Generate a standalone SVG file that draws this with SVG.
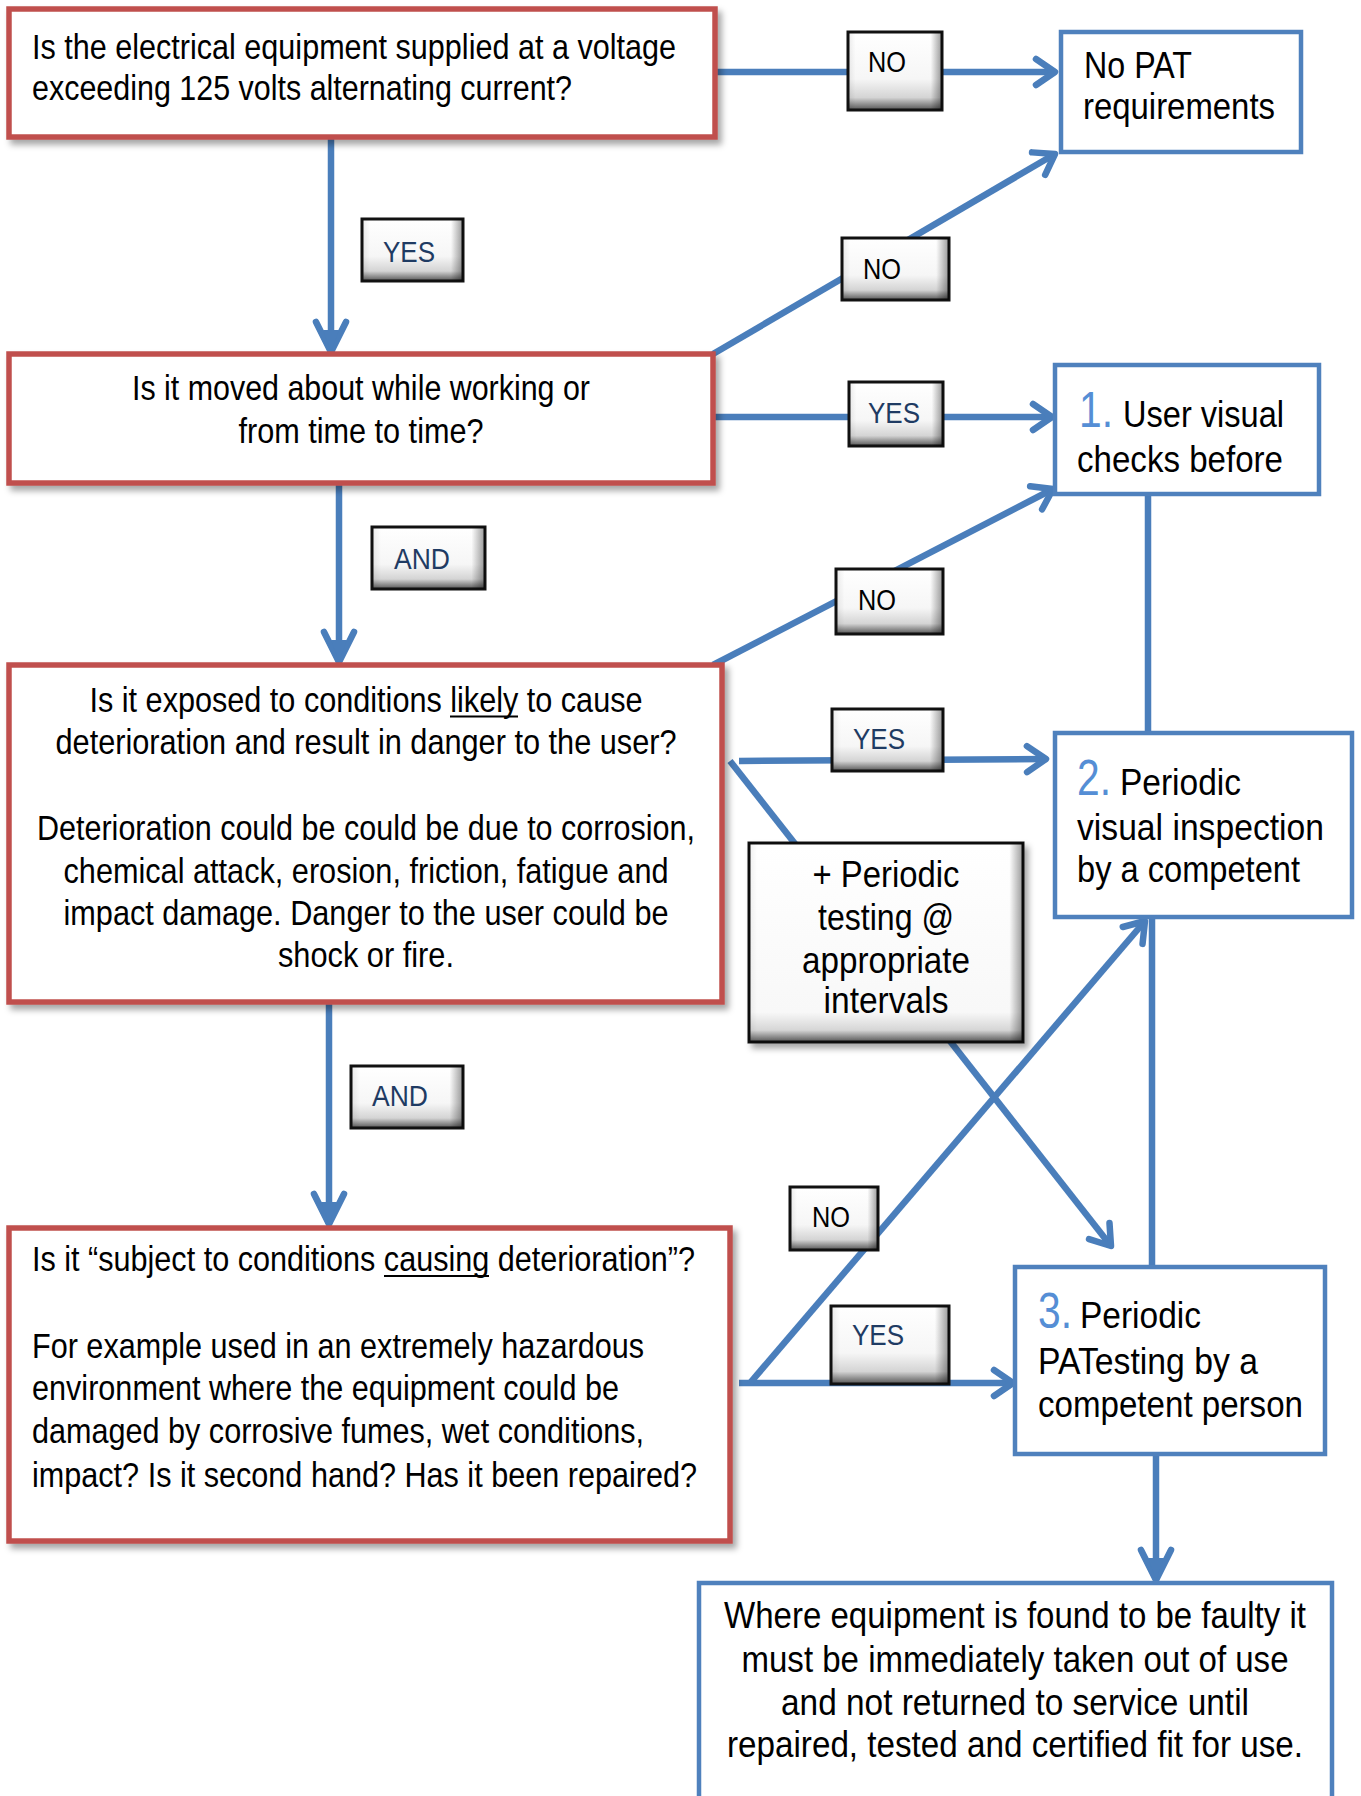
<svg xmlns="http://www.w3.org/2000/svg" width="1361" height="1796" viewBox="0 0 1361 1796">
<style>
.q{fill:#fff;stroke:#C0504D;stroke-width:5.5}
.b{fill:#fff;stroke:#4F81BD;stroke-width:4.5}
.t{font-family:"Liberation Sans Narrow","Liberation Sans",Arial,sans-serif;font-size:35px;fill:#000}
.r{font-family:"Liberation Sans Narrow","Liberation Sans",Arial,sans-serif;font-size:36px;fill:#000}
.n{font-family:"Liberation Sans Narrow","Liberation Sans",Arial,sans-serif;font-size:50px;fill:#558ED5}
.lb{font-family:"Liberation Sans Narrow","Liberation Sans",Arial,sans-serif;font-size:29px;text-anchor:middle}
.y{fill:#1F3B63}
.k{fill:#000}
.c{fill:none;stroke:#4A7EBB;stroke-width:6.5}
.lab{fill:url(#lg);stroke:#111;stroke-width:3}
.note{fill:url(#ng);stroke:#111;stroke-width:3}
.m{text-anchor:middle}
.u{stroke:#000;stroke-width:2.2}
</style>
<defs>
<linearGradient id="lg" x1="0" y1="0" x2="0" y2="1">
<stop offset="0" stop-color="#ffffff"/>
<stop offset="0.6" stop-color="#f6f6f6"/>
<stop offset="0.84" stop-color="#d4d4d4"/>
<stop offset="1" stop-color="#555555"/>
</linearGradient>
<linearGradient id="ng" x1="0" y1="0" x2="0" y2="1">
<stop offset="0" stop-color="#ffffff"/>
<stop offset="0.85" stop-color="#f8f8f8"/>
<stop offset="0.94" stop-color="#d6d6d6"/>
<stop offset="1" stop-color="#555555"/>
</linearGradient>
<linearGradient id="lh" x1="0" y1="0" x2="1" y2="0">
<stop offset="0" stop-color="#000" stop-opacity="0.08"/>
<stop offset="0.08" stop-color="#000" stop-opacity="0"/>
<stop offset="0.88" stop-color="#000" stop-opacity="0"/>
<stop offset="1" stop-color="#000" stop-opacity="0.4"/>
</linearGradient>
<linearGradient id="nh" x1="0" y1="0" x2="1" y2="0">
<stop offset="0" stop-color="#000" stop-opacity="0.06"/>
<stop offset="0.03" stop-color="#000" stop-opacity="0"/>
<stop offset="0.95" stop-color="#000" stop-opacity="0"/>
<stop offset="1" stop-color="#000" stop-opacity="0.4"/>
</linearGradient>
<filter id="sh" x="-5%" y="-5%" width="115%" height="120%">
<feDropShadow dx="4" dy="5" stdDeviation="3" flood-color="#000" flood-opacity="0.35"/>
</filter>
<marker id="open" markerUnits="userSpaceOnUse" viewBox="-26 -20 32 40" markerWidth="32" markerHeight="40" refX="0" refY="0" orient="auto">
<path d="M-19,-13 L0,0 L-19,13" fill="none" stroke="#4A7EBB" stroke-width="6.5" stroke-linecap="round" stroke-linejoin="round"/>
</marker>
<marker id="down" markerUnits="userSpaceOnUse" viewBox="-36 -22 42 44" markerWidth="42" markerHeight="44" refX="0" refY="0" orient="auto">
<path d="M-30,-15 L0,0 L-30,15" fill="none" stroke="#4A7EBB" stroke-width="6.5" stroke-linecap="round" stroke-linejoin="round"/>
<path d="M-22,-8 L0,0 L-22,8 Z" fill="#4A7EBB"/>
</marker>
</defs>

<g id="connectors">
<path class="c" d="M715,72 H1055" marker-end="url(#open)"/>
<path class="c" d="M331,139 V352" marker-end="url(#down)"/>
<path class="c" d="M713,354 L1055,154" marker-end="url(#open)"/>
<path class="c" d="M713,417 H1052" marker-end="url(#open)"/>
<path class="c" d="M339,483 V662" marker-end="url(#down)"/>
<path class="c" d="M713,665 L1053,489" marker-end="url(#open)"/>
<path class="c" d="M739,761 L1046,759" marker-end="url(#open)"/>
<path class="c" d="M730,761 L1111,1246" marker-end="url(#open)"/>
<path class="c" d="M1148,495 V733"/>
<path class="c" d="M329,1002 V1224" marker-end="url(#down)"/>
<path class="c" d="M739,1383 H1013" marker-end="url(#open)"/>
<path class="c" d="M750,1383 L1145,921" marker-end="url(#open)"/>
<path class="c" d="M1152,917 V1266"/>
<path class="c" d="M1156,1455 V1580" marker-end="url(#down)"/>
</g>

<g id="labels">
<g id="lbl-no1"><rect class="lab" x="848" y="32" width="94" height="78"/><rect x="848" y="32" width="94" height="78" fill="url(#lh)"/><text class="lb k" x="887" y="72" textLength="38" lengthAdjust="spacingAndGlyphs">NO</text></g>
<g id="lbl-yes1"><rect class="lab" x="362" y="219" width="101" height="62"/><rect x="362" y="219" width="101" height="62" fill="url(#lh)"/><text class="lb y" x="409" y="262" textLength="52" lengthAdjust="spacingAndGlyphs">YES</text></g>
<g id="lbl-no2"><rect class="lab" x="842" y="238" width="107" height="62"/><rect x="842" y="238" width="107" height="62" fill="url(#lh)"/><text class="lb k" x="882" y="279" textLength="38" lengthAdjust="spacingAndGlyphs">NO</text></g>
<g id="lbl-yes2"><rect class="lab" x="849" y="382" width="94" height="64"/><rect x="849" y="382" width="94" height="64" fill="url(#lh)"/><text class="lb y" x="894" y="423" textLength="52" lengthAdjust="spacingAndGlyphs">YES</text></g>
<g id="lbl-and1"><rect class="lab" x="372" y="527" width="113" height="62"/><rect x="372" y="527" width="113" height="62" fill="url(#lh)"/><text class="lb y" x="422" y="569" textLength="56" lengthAdjust="spacingAndGlyphs">AND</text></g>
<g id="lbl-no3"><rect class="lab" x="836" y="569" width="107" height="65"/><rect x="836" y="569" width="107" height="65" fill="url(#lh)"/><text class="lb k" x="877" y="610" textLength="38" lengthAdjust="spacingAndGlyphs">NO</text></g>
<g id="lbl-yes3"><rect class="lab" x="832" y="709" width="111" height="62"/><rect x="832" y="709" width="111" height="62" fill="url(#lh)"/><text class="lb y" x="879" y="749" textLength="52" lengthAdjust="spacingAndGlyphs">YES</text></g>
<g id="lbl-and2"><rect class="lab" x="351" y="1066" width="112" height="62"/><rect x="351" y="1066" width="112" height="62" fill="url(#lh)"/><text class="lb y" x="400" y="1106" textLength="56" lengthAdjust="spacingAndGlyphs">AND</text></g>
<g id="lbl-no4"><rect class="lab" x="790" y="1187" width="88" height="63"/><rect x="790" y="1187" width="88" height="63" fill="url(#lh)"/><text class="lb k" x="831" y="1227" textLength="38" lengthAdjust="spacingAndGlyphs">NO</text></g>
<g id="lbl-yes4"><rect class="lab" x="831" y="1306" width="118" height="78"/><rect x="831" y="1306" width="118" height="78" fill="url(#lh)"/><text class="lb y" x="878" y="1345" textLength="52" lengthAdjust="spacingAndGlyphs">YES</text></g>
</g>

<g id="q1">
<rect class="q" x="9" y="9" width="706" height="128" filter="url(#sh)"/>
<text class="t" x="32" y="59" textLength="644" lengthAdjust="spacingAndGlyphs">Is the electrical equipment supplied at a voltage</text>
<text class="t" x="32" y="100" textLength="540" lengthAdjust="spacingAndGlyphs">exceeding 125 volts alternating current?</text>
</g>

<g id="q2">
<rect class="q" x="9" y="354" width="704" height="129" filter="url(#sh)"/>
<text class="t m" x="361" y="400" textLength="458" lengthAdjust="spacingAndGlyphs">Is it moved about while working or</text>
<text class="t m" x="361" y="443" textLength="245" lengthAdjust="spacingAndGlyphs">from time to time?</text>
</g>

<g id="q3">
<rect class="q" x="9" y="665" width="713" height="337" filter="url(#sh)"/>
<text class="t m" x="366" y="712" textLength="553" lengthAdjust="spacingAndGlyphs">Is it exposed to conditions likely to cause</text>
<line class="u" x1="450" y1="716.5" x2="518" y2="716.5"/>
<text class="t m" x="366" y="754" textLength="621" lengthAdjust="spacingAndGlyphs">deterioration and result in danger to the user?</text>
<text class="t m" x="366" y="840" textLength="658" lengthAdjust="spacingAndGlyphs">Deterioration could be could be due to corrosion,</text>
<text class="t m" x="366" y="883" textLength="605" lengthAdjust="spacingAndGlyphs">chemical attack, erosion, friction, fatigue and</text>
<text class="t m" x="366" y="925" textLength="605" lengthAdjust="spacingAndGlyphs">impact damage. Danger to the user could be</text>
<text class="t m" x="366" y="967" textLength="176" lengthAdjust="spacingAndGlyphs">shock or fire.</text>
</g>

<g id="q4">
<rect class="q" x="9" y="1228" width="721" height="313" filter="url(#sh)"/>
<text class="t" x="32" y="1271" textLength="663" lengthAdjust="spacingAndGlyphs">Is it “subject to conditions causing deterioration”?</text>
<line class="u" x1="384" y1="1276" x2="489" y2="1276"/>
<text class="t" x="32" y="1358" textLength="612" lengthAdjust="spacingAndGlyphs">For example used in an extremely hazardous</text>
<text class="t" x="32" y="1400" textLength="587" lengthAdjust="spacingAndGlyphs">environment where the equipment could be</text>
<text class="t" x="32" y="1443" textLength="612" lengthAdjust="spacingAndGlyphs">damaged by corrosive fumes, wet conditions,</text>
<text class="t" x="32" y="1487" textLength="665" lengthAdjust="spacingAndGlyphs">impact? Is it second hand? Has it been repaired?</text>
</g>

<g id="nopat">
<rect class="b" x="1061" y="32" width="240" height="120"/>
<text class="r" x="1084" y="78" textLength="108" lengthAdjust="spacingAndGlyphs">No PAT</text>
<text class="r" x="1083" y="119" textLength="192" lengthAdjust="spacingAndGlyphs">requirements</text>
</g>

<g id="step1">
<rect class="b" x="1055" y="365" width="264" height="129"/>
<text class="n" x="1079" y="427" textLength="34" lengthAdjust="spacingAndGlyphs">1.</text>
<text class="r" x="1123" y="427" textLength="161" lengthAdjust="spacingAndGlyphs">User visual</text>
<text class="r" x="1077" y="472" textLength="206" lengthAdjust="spacingAndGlyphs">checks before</text>
</g>

<g id="step2">
<rect class="b" x="1055" y="733" width="297" height="184"/>
<text class="n" x="1077" y="795" textLength="34" lengthAdjust="spacingAndGlyphs">2.</text>
<text class="r" x="1120" y="795" textLength="121" lengthAdjust="spacingAndGlyphs">Periodic</text>
<text class="r" x="1077" y="840" textLength="247" lengthAdjust="spacingAndGlyphs">visual inspection</text>
<text class="r" x="1077" y="882" textLength="223" lengthAdjust="spacingAndGlyphs">by a competent</text>
</g>

<g id="note">
<rect class="note" x="749" y="843" width="274" height="199" filter="url(#sh)"/>
<rect x="749" y="843" width="274" height="199" fill="url(#nh)"/>
<text class="r m" x="886" y="887" textLength="147" lengthAdjust="spacingAndGlyphs">+ Periodic</text>
<text class="r m" x="886" y="930" textLength="136" lengthAdjust="spacingAndGlyphs">testing @</text>
<text class="r m" x="886" y="973" textLength="168" lengthAdjust="spacingAndGlyphs">appropriate</text>
<text class="r m" x="886" y="1013" textLength="125" lengthAdjust="spacingAndGlyphs">intervals</text>
</g>

<g id="step3">
<rect class="b" x="1015" y="1267" width="310" height="187"/>
<text class="n" x="1038" y="1328" textLength="34" lengthAdjust="spacingAndGlyphs">3.</text>
<text class="r" x="1080" y="1328" textLength="121" lengthAdjust="spacingAndGlyphs">Periodic</text>
<text class="r" x="1038" y="1374" textLength="220" lengthAdjust="spacingAndGlyphs">PATesting by a</text>
<text class="r" x="1038" y="1417" textLength="265" lengthAdjust="spacingAndGlyphs">competent person</text>
</g>

<g id="faulty">
<rect class="b" x="699" y="1583" width="633" height="240"/>
<text class="r m" x="1015" y="1628" textLength="582" lengthAdjust="spacingAndGlyphs">Where equipment is found to be faulty it</text>
<text class="r m" x="1015" y="1672" textLength="547" lengthAdjust="spacingAndGlyphs">must be immediately taken out of use</text>
<text class="r m" x="1015" y="1715" textLength="468" lengthAdjust="spacingAndGlyphs">and not returned to service until</text>
<text class="r m" x="1015" y="1757" textLength="576" lengthAdjust="spacingAndGlyphs">repaired, tested and certified fit for use.</text>
</g>
</svg>
